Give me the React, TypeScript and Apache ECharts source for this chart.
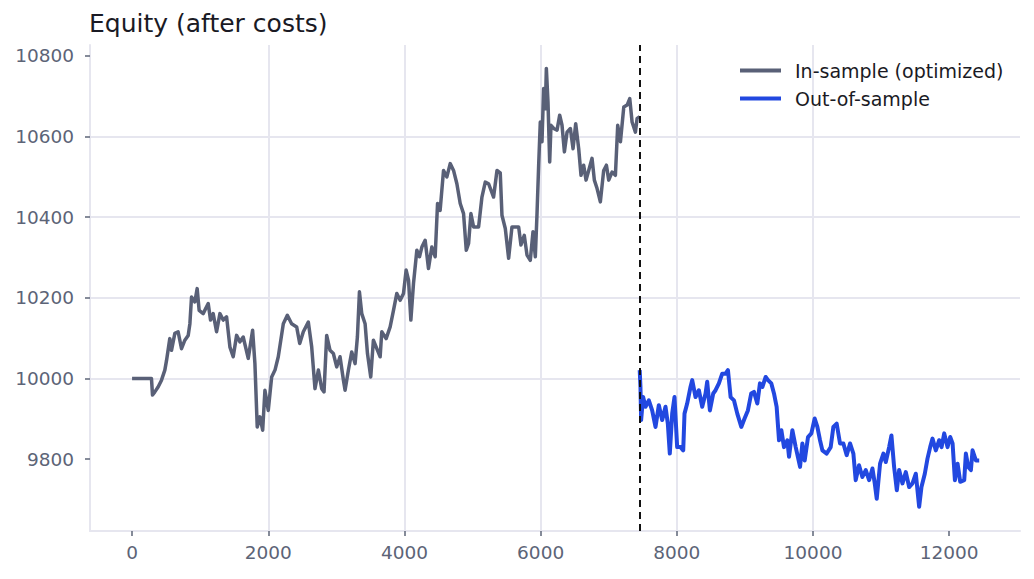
import React, { useEffect, useRef } from 'react';
import * as echarts from 'echarts';

// equity: [bar index, equity]
const inSample: [number, number][] = [
  [0, 10000], [285, 10000], [300, 9959], [334, 9967], [382, 9979], [432, 9996], [481, 10021], [506, 10045],
  [554, 10099], [579, 10070], [628, 10112], [676, 10116], [726, 10074], [775, 10095], [824, 10107], [849, 10136],
  [873, 10202], [922, 10190], [956, 10223], [985, 10169], [1044, 10161], [1118, 10186], [1152, 10145], [1191, 10161],
  [1241, 10116], [1290, 10161], [1338, 10145], [1388, 10153], [1437, 10078], [1485, 10054], [1535, 10107], [1584, 10091],
  [1632, 10103], [1706, 10050], [1770, 10120], [1804, 10037], [1838, 9880], [1878, 9905], [1918, 9872], [1951, 9971],
  [2000, 9921], [2050, 10004], [2099, 10021], [2147, 10054], [2221, 10136], [2280, 10157], [2343, 10136], [2417, 10128],
  [2462, 10087], [2515, 10116], [2588, 10140], [2638, 10078], [2686, 9975], [2736, 10021], [2785, 9975], [2819, 9967],
  [2858, 10107], [2907, 10070], [2956, 10062], [3005, 10029], [3054, 10054], [3104, 9996], [3128, 9971], [3177, 10021],
  [3226, 10066], [3275, 10037], [3309, 10103], [3339, 10215], [3373, 10161], [3422, 10136], [3457, 10062], [3505, 10004],
  [3544, 10095], [3594, 10074], [3643, 10054], [3667, 10116], [3731, 10099], [3790, 10128], [3839, 10169], [3888, 10211],
  [3937, 10194], [3986, 10211], [4025, 10269], [4060, 10244], [4094, 10145], [4133, 10236], [4182, 10318], [4221, 10302],
  [4256, 10326], [4304, 10343], [4353, 10273], [4402, 10326], [4451, 10302], [4486, 10434], [4524, 10417], [4574, 10516],
  [4623, 10500], [4672, 10533], [4721, 10516], [4770, 10483], [4819, 10434], [4868, 10409], [4908, 10318], [4942, 10335],
  [4976, 10409], [5015, 10376], [5089, 10376], [5138, 10450], [5187, 10487], [5236, 10483], [5309, 10450], [5359, 10516],
  [5407, 10510], [5432, 10405], [5481, 10372], [5530, 10298], [5579, 10376], [5677, 10376], [5711, 10331], [5760, 10355],
  [5800, 10306], [5848, 10293], [5888, 10364], [5922, 10302], [5946, 10405], [5971, 10529], [5995, 10636], [6020, 10587],
  [6044, 10719], [6069, 10669], [6084, 10769], [6108, 10686], [6133, 10537], [6152, 10628], [6192, 10620], [6241, 10616],
  [6280, 10653], [6314, 10628], [6349, 10562], [6388, 10611], [6437, 10620], [6476, 10570], [6515, 10632], [6559, 10570],
  [6593, 10504], [6632, 10529], [6667, 10492], [6706, 10516], [6755, 10546], [6789, 10492], [6829, 10471], [6877, 10438],
  [6926, 10516], [6966, 10529], [7000, 10492], [7049, 10512], [7098, 10504], [7132, 10628], [7172, 10587], [7221, 10673],
  [7270, 10678], [7309, 10694], [7343, 10636], [7392, 10611], [7417, 10645], [7455, 10649],
];

const outOfSample: [number, number][] = [
  [7455, 10021], [7466, 9979], [7476, 9897], [7505, 9954], [7540, 9930], [7589, 9946], [7638, 9921], [7687, 9880],
  [7736, 9934], [7785, 9897], [7834, 9930], [7868, 9888], [7897, 9814], [7932, 9913], [7966, 9954], [8005, 9830],
  [8054, 9830], [8094, 9822], [8113, 9913], [8152, 9938], [8201, 9979], [8226, 9996], [8275, 9954], [8324, 9971],
  [8373, 9930], [8422, 9963], [8446, 9992], [8486, 9921], [8535, 9963], [8569, 9971], [8618, 9988], [8667, 10012],
  [8716, 10012], [8751, 10021], [8790, 9954], [8839, 9946], [8888, 9913], [8947, 9880], [8995, 9901], [9044, 9921],
  [9093, 9963], [9133, 9967], [9182, 9938], [9221, 9988], [9256, 9979], [9305, 10004], [9339, 9996], [9388, 9988],
  [9427, 9963], [9466, 9930], [9501, 9847], [9535, 9872], [9574, 9830], [9623, 9847], [9648, 9806], [9697, 9872],
  [9746, 9830], [9810, 9781], [9844, 9839], [9878, 9797], [9927, 9855], [9976, 9864], [10025, 9901], [10064, 9880],
  [10103, 9847], [10138, 9822], [10201, 9814], [10260, 9830], [10299, 9880], [10348, 9888], [10397, 9839], [10446, 9839],
  [10495, 9810], [10544, 9839], [10593, 9814], [10627, 9748], [10676, 9785], [10725, 9756], [10775, 9773], [10824, 9748],
  [10873, 9777], [10907, 9740], [10936, 9702], [10985, 9789], [11034, 9814], [11069, 9793], [11118, 9830], [11152, 9859],
  [11191, 9781], [11231, 9723], [11265, 9773], [11314, 9740], [11363, 9768], [11412, 9731], [11461, 9740], [11510, 9764],
  [11559, 9682], [11593, 9731], [11642, 9764], [11682, 9802], [11721, 9830], [11755, 9851], [11804, 9822], [11853, 9847],
  [11888, 9830], [11927, 9864], [11976, 9830], [12015, 9855], [12050, 9839], [12084, 9748], [12123, 9789], [12162, 9744],
  [12221, 9748], [12245, 9814], [12280, 9781], [12319, 9773], [12343, 9822], [12392, 9797], [12441, 9797],
];

const splitX = 7455;
const xTicks = [0, 2000, 4000, 6000, 8000, 10000, 12000];
const yTicks = [9800, 10000, 10200, 10400, 10600, 10800];

const FONT = 'DejaVu Sans';
const GRID_COLOR = '#e6e6ef';
const TICK_TEXT = '#5c6477';

const App: React.FC = () => {
  const chartRef = useRef<HTMLDivElement | null>(null);

  useEffect(() => {
    if (!chartRef.current) return;
    const chart = echarts.init(chartRef.current, null, { renderer: 'svg' });

    const axisCommon = {
      type: 'value' as const,
      axisLine: { show: true, onZero: false, lineStyle: { color: GRID_COLOR, width: 2 } },
      axisTick: { show: true, length: 5, lineStyle: { color: TICK_TEXT, width: 1.5 } },
      axisLabel: {
        color: TICK_TEXT,
        fontFamily: FONT,
        fontSize: 18.5,
        formatter: (v: number) => String(v),
      },
      splitLine: { show: true, showMinLine: false, showMaxLine: false, lineStyle: { color: GRID_COLOR, width: 2 } },
    };

    chart.setOption({
      animation: false,
      backgroundColor: '#ffffff',
      textStyle: { fontFamily: FONT },
      title: {
        text: 'Equity (after costs)',
        left: 84,
        top: 6,
        textStyle: { fontFamily: FONT, fontSize: 25, fontWeight: 'normal', color: '#1a1a24' },
      },
      legend: {
        orient: 'vertical',
        left: 735,
        top: 56,
        itemWidth: 41,
        itemHeight: 4,
        itemGap: 9,
        icon: 'rect',
        textStyle: { fontFamily: FONT, fontSize: 19, color: '#1a1a24', padding: [0, 0, 0, 9] },
        data: ['In-sample (optimized)', 'Out-of-sample'],
      },
      grid: { left: 90, right: 14, top: 45, bottom: 48, containLabel: false },
      xAxis: {
        ...axisCommon,
        min: -618,
        max: 13040,
        splitNumber: 7,
        axisTick: { ...axisCommon.axisTick, customValues: xTicks },
        axisLabel: { ...axisCommon.axisLabel, margin: 12, customValues: xTicks },
      },
      yAxis: {
        ...axisCommon,
        min: 9622,
        max: 10827,
        splitNumber: 6,
        axisTick: { ...axisCommon.axisTick, customValues: yTicks },
        axisLabel: { ...axisCommon.axisLabel, margin: 16, customValues: yTicks },
      },
      series: [
        {
          name: 'In-sample (optimized)',
          type: 'line',
          data: inSample,
          showSymbol: false,
          symbol: 'none',
          color: '#596077',
          lineStyle: { width: 3.5, color: '#596077', join: 'round' },
        },
        {
          name: 'Out-of-sample',
          type: 'line',
          data: outOfSample,
          showSymbol: false,
          symbol: 'none',
          color: '#2248e0',
          lineStyle: { width: 4, color: '#2248e0', join: 'round' },
          markLine: {
            silent: true,
            symbol: 'none',
            label: { show: false },
            lineStyle: { color: '#111111', width: 2, type: [7, 5] },
            data: [{ xAxis: splitX }],
          },
        },
      ],
    });

    return () => {
      chart.dispose();
    };
  }, []);

  return (
    <div
      ref={chartRef}
      style={{ position: 'fixed', left: 0, top: 0, width: '1034px', height: '579px' }}
    />
  );
};

export default App;
